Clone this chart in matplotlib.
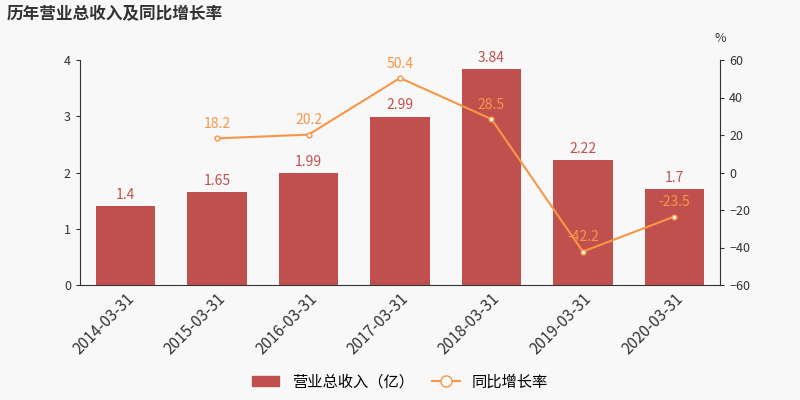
import matplotlib
matplotlib.use("Agg")
import matplotlib.pyplot as plt
from matplotlib.lines import Line2D
from matplotlib.patches import Patch

plt.rcParams['font.family'] = ['Noto Sans CJK SC', 'DejaVu Sans']

categories = ["2014-03-31","2015-03-31","2016-03-31","2017-03-31","2018-03-31","2019-03-31","2020-03-31"]
revenue = [1.4, 1.65, 1.99, 2.99, 3.84, 2.22, 1.7]
growth = [None, 18.2, 20.2, 50.4, 28.5, -42.2, -23.5]

bg = "#f8f8f8"
bar_c = "#c0504d"
line_c = "#f79646"

fig = plt.figure(figsize=(8, 4), dpi=100, facecolor=bg)
ax = fig.add_axes([0.1, 0.2875, 0.8, 0.5625])
ax.set_facecolor(bg)
x = list(range(len(categories)))
ax.bar(x, revenue, width=0.65, color=bar_c)
for i, v in enumerate(revenue):
    ax.text(i, v + 0.08, f"{v:g}", ha="center", va="bottom", color=bar_c, fontsize=10)
ax.set_ylim(0, 4)
ax.set_xlim(-0.5, len(categories) - 0.5)
ax.set_yticks([0, 1, 2, 3, 4])
ax.set_xticks(x)
ax.set_xticklabels(categories, rotation=45, ha="right", rotation_mode="anchor", fontsize=11, color="#333333")
ax.tick_params(axis="y", labelsize=9, colors="#333333", length=3)
ax.tick_params(axis="x", length=0)
for s in ["top", "right"]:
    ax.spines[s].set_visible(False)
ax.spines["left"].set_color("#333333")
ax.spines["bottom"].set_color("#333333")

ax2 = ax.twinx()
xs = [i for i, g in enumerate(growth) if g is not None]
ys = [g for g in growth if g is not None]
ax2.plot(xs, ys, color=line_c, lw=1.5, marker="o", ms=3.5, mfc="white", mec=line_c)
for i, g in zip(xs, ys):
    ax2.text(i, g + 4, f"{g:g}", ha="center", va="bottom", color=line_c, fontsize=10)
ax2.set_ylim(-60, 60)
ax2.set_yticks([-60, -40, -20, 0, 20, 40, 60])
ax2.tick_params(axis="y", labelsize=9, colors="#333333", length=3)
for s in ["top", "left", "bottom"]:
    ax2.spines[s].set_visible(False)
ax2.spines["right"].set_color("#333333")
fig.text(0.9, 0.895, "%", ha="center", fontsize=9, color="#333333")

fig.text(0.008, 0.965, "历年营业总收入及同比增长率", fontsize=12, fontweight="bold", color="#333333", va="center")

handles = [Patch(color=bar_c, label="营业总收入（亿）"),
           Line2D([0], [0], color=line_c, marker="o", ms=8, mfc="white", mec=line_c, label="同比增长率")]
fig.legend(handles=handles, loc="lower center", ncol=2, frameon=False, bbox_to_anchor=(0.5, -0.01),
           fontsize=11, handlelength=1.8, columnspacing=1.2)

fig.savefig("out.png", dpi=100, facecolor=bg)
